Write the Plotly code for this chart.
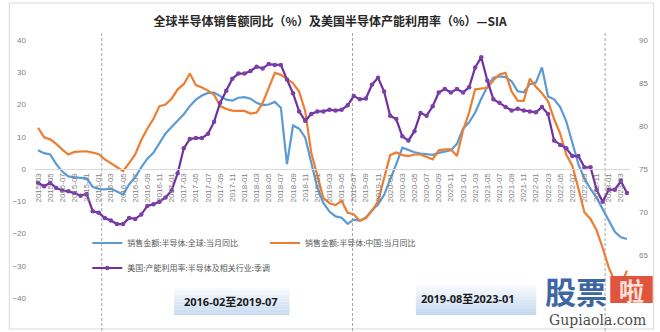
import pandas as pd
import plotly.graph_objects as go

# Monthly categories, 2015-03 .. 2023-04
months = pd.period_range("2015-03", "2023-04", freq="M").strftime("%Y-%m").tolist()
tick_labels = months[::2]
left_ticks = [-40, -30, -20, -10, 0, 10, 20, 30, 40]
right_ticks = [65, 70, 75, 80, 85, 90]

# 销售金额:半导体:全球:当月同比 (%)
global_yoy = [
    5.8, 4.9, 4.5, 1.5, -0.8, -2.3, -2.6, -2.7, -2.9, -5.5,
    -6.2, -6.3, -6.1, -7.0, -7.9, -4.8, -2.5, 0.5, 3.2, 5.0,
    7.8, 11.0, 13.0, 15.0, 17.0, 19.5, 21.5, 22.8, 23.6, 23.7,
    22.5, 21.5, 21.2, 22.1, 22.3, 21.8, 20.5, 19.8, 20.0, 20.8,
    19.0, 1.5, 13.5, 12.5, 9.8, 1.5, -5.8, -10.5, -13.2, -14.7,
    -15.1, -17.0, -15.7, -16.0, -15.0, -12.8, -11.0, -8.0, -3.5, 1.5,
    6.6, 5.9, 5.2, 4.8, 4.6, 4.4, 5.0, 5.4, 5.8, 7.8,
    12.5, 14.5, 17.5, 21.8, 25.5, 28.3, 28.7, 28.5, 27.2, 24.1,
    23.8, 26.3, 26.8, 31.5, 22.5, 21.6, 19.2, 14.8, 8.2, 1.5,
    -3.0, -6.2, -8.9, -12.6, -16.3, -19.5, -21.2, -21.7,
]

# 销售金额:半导体:中国:当月同比 (%)
china_yoy = [
    12.8, 9.8, 9.2, 7.8, 6.0, 4.5, 5.3, 5.3, 5.5, 5.1,
    4.6, 3.0, 1.8, 0.6, -0.6, 1.8, 4.5, 9.0, 12.5, 15.5,
    19.5, 20.0, 21.8, 24.7, 26.3, 29.6, 26.0, 25.3, 24.3, 23.0,
    19.5, 18.6, 18.1, 18.0, 18.0, 17.2, 17.5, 20.5, 25.0, 29.8,
    29.2, 28.0, 26.6, 24.0, 18.0, 5.0, -1.8, -9.0, -10.6, -11.2,
    -9.9, -13.6, -14.0, -16.1, -15.2, -13.0, -10.0, -3.0, 4.3, 5.1,
    4.3, 4.0, 4.5, 4.5, 3.8, 3.0, 5.8, 6.1, 6.1, 4.0,
    12.0, 17.5, 24.7, 24.9, 25.2, 27.5, 29.3, 29.8, 24.0, 21.2,
    21.1, 28.0, 25.5, 23.5, 21.0, 15.5, 11.0, 4.5, 1.0, -6.0,
    -13.5, -15.5, -19.0, -24.5, -30.5, -35.0, -36.0, -31.5,
]

# 美国:产能利用率:半导体及相关行业:季调 (%)
us_util = [
    73.4, 73.0, 73.4, 72.8, 72.5, 72.4, 72.2, 71.9, 72.1, 70.1,
    69.9, 69.3, 69.0, 68.6, 68.6, 69.3, 69.2, 69.7, 70.7, 70.9,
    71.2, 71.7, 72.5, 74.5, 77.4, 78.5, 78.6, 78.6, 79.1, 80.5,
    82.7, 84.1, 85.5, 86.1, 86.1, 86.4, 86.9, 86.7, 87.2, 87.1,
    87.1, 85.4, 83.8, 81.7, 80.6, 81.4, 81.7, 81.7, 81.9, 81.8,
    81.9, 82.4, 83.5, 83.1, 83.2, 84.8, 85.6, 84.0, 81.2, 80.8,
    78.8, 78.3, 79.4, 81.5, 81.2, 82.3, 83.9, 84.3, 83.9, 84.3,
    83.9, 84.5, 86.8, 88.0, 85.3, 83.1, 82.7, 82.2, 81.8, 82.0,
    81.8, 81.7, 81.6, 82.2, 81.4, 78.3, 77.8, 77.4, 76.5, 76.5,
    75.2, 75.2, 72.6, 71.2, 72.6, 72.6, 73.6, 72.2,
]

series_names = [
    "销售金额:半导体:全球:当月同比",
    "销售金额:半导体:中国:当月同比",
    "美国:产能利用率:半导体及相关行业:季调",
]
period_labels = ["2016-02至2019-07", "2019-08至2023-01"]
period_breaks = [10.5, 51.8, 93.4]  # category positions of the dashed separators

# canvas / plot-area geometry (pixels)
W, H = 660, 332
L, R, T, B = 29, 28, 40, 34
PW, PH = W - L - R, H - T - B


def fx(px):
    return (px - L) / PW


def fy(py):
    return (H - B - py) / PH


CJK = "Noto Sans CJK SC"
TICK_FONT = dict(family="Liberation Sans", size=8, color="#7f7f7f")

fig = go.Figure()
fig.add_trace(go.Scatter(
    x=months, y=global_yoy, name=series_names[0], mode="lines",
    line=dict(color="#5b9bd5", width=2.2), legend="legend",
))
fig.add_trace(go.Scatter(
    x=months, y=china_yoy, name=series_names[1], mode="lines",
    line=dict(color="#ed7d31", width=2.2), legend="legend2",
))
fig.add_trace(go.Scatter(
    x=months, y=us_util, name=series_names[2], mode="lines+markers",
    line=dict(color="#7030a0", width=2.2),
    marker=dict(color="#7b3fa8", size=4.5, line=dict(width=0)),
    yaxis="y2", legend="legend3",
))

shapes = []
# outer frame
shapes.append(dict(type="rect", xref="paper", yref="paper",
                   x0=fx(3), x1=fx(656), y0=fy(329), y1=fy(3),
                   line=dict(color="#d9d9d9", width=1), layer="below"))
# dashed period separators
for xb in period_breaks:
    shapes.append(dict(type="line", xref="x", yref="paper",
                       x0=xb, x1=xb, y0=fy(331), y1=fy(33),
                       line=dict(color="#a6a6a6", width=1, dash="3px,2px"),
                       layer="below"))


def gradient_box(x0, x1, y0, y1, n=10):
    top, bot = (247, 250, 254), (200, 218, 240)
    h = (y1 - y0) / n
    for i in range(n):
        t = i / (n - 1)
        c = tuple(round(top[k] + (bot[k] - top[k]) * t) for k in range(3))
        shapes.append(dict(type="rect", xref="paper", yref="paper",
                           x0=fx(x0), x1=fx(x1),
                           y0=fy(y0 + h * (i + 1)), y1=fy(y0 + h * i),
                           line=dict(width=0), fillcolor="rgb(%d,%d,%d)" % c,
                           layer="above"))


gradient_box(170, 287, 288, 315)
gradient_box(415, 537, 285, 315)

# red badge of the site mark
shapes.append(dict(type="rect", xref="paper", yref="paper",
                   x0=fx(612), x1=fx(655), y0=fy(303), y1=fy(276),
                   line=dict(width=0), fillcolor="#e1553f", layer="above"))


def label(text, px, py, font):
    return dict(text=text, x=fx(px), y=fy(py), xref="paper", yref="paper",
                xanchor="center", yanchor="middle", showarrow=False, font=font)


annotations = [
    label("<b>%s</b>" % period_labels[0], 228, 301,
          dict(family="Open Sans, " + CJK, size=11, color="#1a1a1a")),
    label("<b>%s</b>" % period_labels[1], 468, 298,
          dict(family="Open Sans, " + CJK, size=11, color="#1a1a1a")),
    label("<b>股票</b>", 577, 290, dict(family=CJK, size=31, color="#3e66a3")),
    label("<b>啦</b>", 633.5, 289.5, dict(family=CJK, size=25, color="#fbe3dc")),
    label("Gupiaola.com", 599, 320, dict(family="DejaVu Serif", size=14, color="#4d4d4d")),
]

legend_common = dict(xanchor="left", yanchor="middle", bgcolor="rgba(0,0,0,0)",
                     borderwidth=0, itemwidth=30,
                     font=dict(family=CJK, size=8, color="#595959"))

fig.update_layout(
    width=W, height=H,
    margin=dict(l=L, r=R, t=T, b=B, pad=0),
    paper_bgcolor="white", plot_bgcolor="white",
    title=dict(text="<b>全球半导体销售额同比（%）及美国半导体产能利用率（%）—SIA</b>",
               x=0.5, xref="container", xanchor="center",
               y=1 - 22 / H, yref="container", yanchor="middle",
               font=dict(family=CJK, size=12, color="#262626")),
    xaxis=dict(type="category", categoryorder="array", categoryarray=months,
               range=[-0.5, len(months) - 0.5], tickvals=tick_labels,
               tickangle=-90, tickfont=TICK_FONT, showgrid=False,
               showline=True, linecolor="#d9d9d9", linewidth=1,
               anchor="free", position=0.5, ticks="", zeroline=False),
    yaxis=dict(range=[-40, 40], tickvals=left_ticks, showgrid=False, zeroline=False,
               tickfont=TICK_FONT, ticklabelstandoff=8, showline=False),
    yaxis2=dict(overlaying="y", side="right", range=[60, 90], tickvals=right_ticks,
                showgrid=False, zeroline=False, tickfont=TICK_FONT,
                ticklabelstandoff=8, showline=False),
    legend=dict(x=fx(82), y=fy(243), **legend_common),
    legend2=dict(x=fx(262), y=fy(243), **legend_common),
    legend3=dict(x=fx(82), y=fy(268), **legend_common),
    shapes=shapes,
    annotations=annotations,
    showlegend=True,
)

fig.write_html("out.html")
